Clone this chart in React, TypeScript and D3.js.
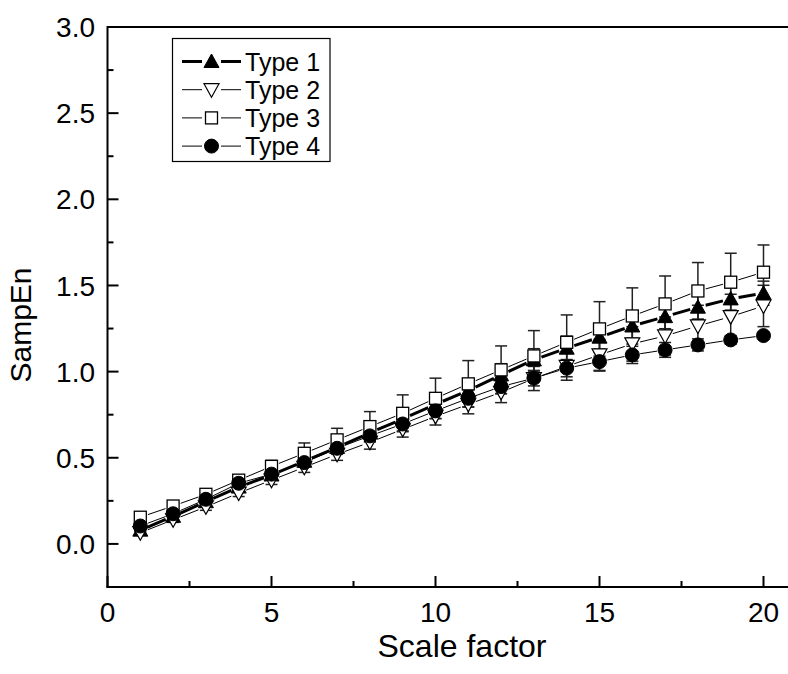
import React from "react";
import * as d3 from "d3";

const scales = d3.range(1, 21);
const type1 = [0.08, 0.16, 0.245, 0.33, 0.40, 0.48, 0.56, 0.645, 0.725, 0.81, 0.89, 0.981, 1.068, 1.136, 1.2, 1.265, 1.319, 1.374, 1.422, 1.455];
const type1Err = [0.01, 0.015, 0.02, 0.025, 0.03, 0.035, 0.04, 0.045, 0.05, 0.055, 0.06, 0.065, 0.065, 0.07, 0.07, 0.07, 0.07, 0.07, 0.065, 0.07];
const type2 = [0.065, 0.14, 0.215, 0.295, 0.37, 0.445, 0.52, 0.59, 0.665, 0.74, 0.81, 0.88, 0.96, 1.03, 1.097, 1.161, 1.207, 1.265, 1.319, 1.381];
const type2Err = [0.01, 0.015, 0.02, 0.02, 0.025, 0.03, 0.035, 0.04, 0.045, 0.05, 0.055, 0.06, 0.07, 0.08, 0.09, 0.1, 0.11, 0.12, 0.13, 0.12];
const type3 = [0.155, 0.22, 0.288, 0.37, 0.45, 0.526, 0.604, 0.681, 0.758, 0.845, 0.929, 1.01, 1.091, 1.17, 1.248, 1.323, 1.393, 1.468, 1.519, 1.577];
const type3Err = [0.02, 0.02, 0.02, 0.02, 0.035, 0.06, 0.067, 0.087, 0.107, 0.117, 0.135, 0.139, 0.147, 0.159, 0.158, 0.163, 0.162, 0.165, 0.168, 0.158];
const type4 = [0.104, 0.175, 0.259, 0.352, 0.405, 0.472, 0.555, 0.627, 0.696, 0.772, 0.845, 0.913, 0.962, 1.02, 1.058, 1.097, 1.126, 1.155, 1.184, 1.209];
const type4Err = [0.01, 0.01, 0.015, 0.02, 0.02, 0.025, 0.03, 0.035, 0.04, 0.045, 0.05, 0.04, 0.045, 0.05, 0.055, 0.05, 0.043, 0.035, 0.025, 0.02];

const seriesNames = ["Type 1", "Type 2", "Type 3", "Type 4"];
const xTicks = [0, 5, 10, 15, 20];
const yTicks = [0, 0.5, 1.0, 1.5, 2.0, 2.5, 3.0];

type Series = { name: string; values: number[]; errs: number[]; marker: string; lw: number };

const series: Series[] = [
  { name: seriesNames[0], values: type1, errs: type1Err, marker: "triUp", lw: 3 },
  { name: seriesNames[1], values: type2, errs: type2Err, marker: "triDown", lw: 1 },
  { name: seriesNames[2], values: type3, errs: type3Err, marker: "square", lw: 1 },
  { name: seriesNames[3], values: type4, errs: type4Err, marker: "circle", lw: 1 },
];

const FONT = "'Liberation Sans', Arial, sans-serif";

function Marker({ kind, cx, cy }: { kind: string; cx: number; cy: number }) {
  if (kind === "circle") return <circle cx={cx} cy={cy} r={7} fill="#000" stroke="#000" strokeWidth={1} />;
  if (kind === "square") return <rect x={cx - 6} y={cy - 6} width={12} height={12} fill="#fff" stroke="#000" strokeWidth={1.3} />;
  if (kind === "triUp") {
    const p = `${cx - 7.5},${cy + 6} ${cx + 7.5},${cy + 6} ${cx},${cy - 7.5}`;
    return <polygon points={p} fill="#000" stroke="#000" strokeWidth={1} />;
  }
  const p = `${cx - 7.5},${cy - 6} ${cx + 7.5},${cy - 6} ${cx},${cy + 7.5}`;
  return <polygon points={p} fill="#fff" stroke="#000" strokeWidth={1.2} />;
}

export default function App() {
  const W = 788, H = 674;
  const x = d3.scaleLinear().domain([0, 21]).range([107.5, 107.5 + 32.8 * 21]);
  const y = d3.scaleLinear().domain([-0.25, 3.0]).range([587, 27]);
  const left = x(0), bottom = y(-0.25), top = y(3.0);
  const gap = 8;

  const segs = (s: Series) => {
    const out: JSX.Element[] = [];
    for (let i = 0; i < scales.length - 1; i++) {
      const x1 = x(scales[i]), y1 = y(s.values[i]);
      const x2 = x(scales[i + 1]), y2 = y(s.values[i + 1]);
      const dx = x2 - x1, dy = y2 - y1;
      const len = Math.hypot(dx, dy);
      const ux = dx / len, uy = dy / len;
      out.push(
        <line key={i} x1={x1 + ux * gap} y1={y1 + uy * gap} x2={x2 - ux * gap} y2={y2 - uy * gap}
          stroke="#000" strokeWidth={s.lw} />
      );
    }
    return out;
  };

  const minorX = d3.range(0, 21.1, 2.5).filter((v) => v % 5 !== 0);
  const minorY = d3.range(-0.25, 3.01, 0.25).filter((v) => Math.abs((v * 2) % 1) > 0.01);

  return (
    <svg width={W} height={H} style={{ position: "absolute", left: 0, top: 0, background: "#fff" }} fontFamily={FONT}>
      <rect x={0} y={0} width={W} height={H} fill="#fff" />
      {/* error bars */}
      {series.map((s) => (
        <g key={s.name + "err"} stroke="#222" strokeWidth={1.5}>
          {scales.map((sc, i) => {
            const cx = x(sc);
            const yh = y(s.values[i] + s.errs[i]);
            const yl = y(s.values[i] - s.errs[i]);
            return (
              <g key={i}>
                <line x1={cx} x2={cx} y1={yh} y2={yl} />
                <line x1={cx - 6} x2={cx + 6} y1={yh} y2={yh} />
                <line x1={cx - 6} x2={cx + 6} y1={yl} y2={yl} />
              </g>
            );
          })}
        </g>
      ))}
      {/* lines */}
      {series.map((s) => <g key={s.name + "line"}>{segs(s)}</g>)}
      {/* markers */}
      {series.map((s) => (
        <g key={s.name + "mk"}>
          {scales.map((sc, i) => <Marker key={i} kind={s.marker} cx={x(sc)} cy={y(s.values[i])} />)}
        </g>
      ))}
      {/* axes */}
      <line x1={left} x2={W} y1={top} y2={top} stroke="#000" strokeWidth={2} />
      <line x1={left} x2={left} y1={top - 1} y2={bottom + 1} stroke="#000" strokeWidth={2} />
      <line x1={left - 1} x2={W} y1={bottom} y2={bottom} stroke="#000" strokeWidth={2} />
      {xTicks.map((t) => (
        <g key={"xt" + t}>
          <line x1={x(t)} x2={x(t)} y1={bottom} y2={bottom - 11} stroke="#000" strokeWidth={2} />
          <text x={x(t)} y={622} textAnchor="middle" fontSize={28}>{t}</text>
        </g>
      ))}
      {minorX.map((t) => (
        <line key={"xm" + t} x1={x(t)} x2={x(t)} y1={bottom} y2={bottom - 6} stroke="#000" strokeWidth={2} />
      ))}
      {yTicks.map((t) => (
        <g key={"yt" + t}>
          <line x1={left} x2={left + 11} y1={y(t)} y2={y(t)} stroke="#000" strokeWidth={2} />
          <text x={95} y={y(t)} dy="0.36em" textAnchor="end" fontSize={28}>{t.toFixed(1)}</text>
        </g>
      ))}
      {minorY.map((t) => (
        <line key={"ym" + t} x1={left} x2={left + 6} y1={y(t)} y2={y(t)} stroke="#000" strokeWidth={2} />
      ))}
      <text x={462} y={657} textAnchor="middle" fontSize={32}>Scale factor</text>
      <text transform={`translate(31,325) rotate(-90)`} textAnchor="middle" fontSize={30}>SampEn</text>
      {/* legend */}
      <rect x={172.5} y={38.5} width={157.5} height={123} fill="#fff" stroke="#000" strokeWidth={1.2} />
      {series.map((s, i) => {
        const ly = 61.5 + i * 28.2;
        return (
          <g key={s.name + "lg"}>
            <line x1={182} x2={202} y1={ly} y2={ly} stroke="#000" strokeWidth={s.lw} />
            <line x1={221} x2={241} y1={ly} y2={ly} stroke="#000" strokeWidth={s.lw} />
            <Marker kind={s.marker} cx={211.5} cy={ly} />
            <text x={245} y={ly} dy="0.36em" fontSize={25}>{s.name}</text>
          </g>
        );
      })}
    </svg>
  );
}
